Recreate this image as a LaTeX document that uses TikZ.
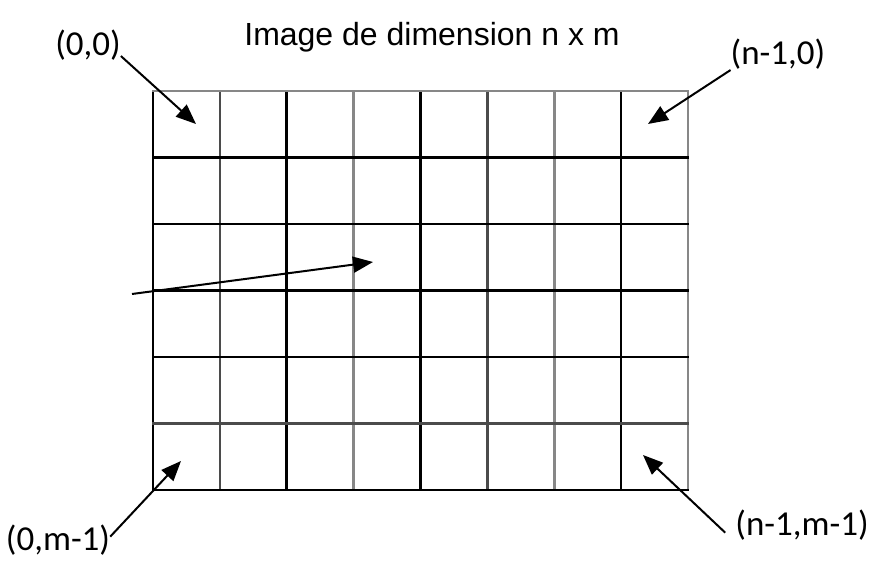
\documentclass[tikz,border=0pt]{standalone}
\usepackage{fontspec}
\setmainfont{Liberation Sans}
\newfontfamily\cornerfont{Carlito}
\usetikzlibrary{arrows.meta}
\definecolor{griddark}{RGB}{75,75,75}
\definecolor{gridlight}{RGB}{135,135,135}

\begin{document}
\begin{tikzpicture}[x=1pt, y=-1pt,
  gline/.style={line width=2.7pt, line cap=rect},
  plbl/.style={anchor=base, inner sep=0pt, font=\cornerfont\fontsize{35}{40}\selectfont},
  ptr/.style={line width=2pt, -{Triangle[length=20pt, width=16pt]}}
]
  \useasboundingbox (0,0) rectangle (876,572);

  % grille 8 x 6
  \foreach \i/\c in {0/black, 1/griddark, 2/black, 3/gridlight, 4/black, 5/griddark, 6/gridlight, 7/black, 8/gridlight}
    \draw[gline, \c] ({153+\i*66.875},91) -- ({153+\i*66.875},490);
  \foreach \j/\c in {0/gridlight, 1/black, 2/black, 3/black, 4/black, 5/griddark, 6/black}
    \draw[gline, \c] (153,{91+\j*66.5}) -- (688,{91+\j*66.5});

  % titre et coins
  \node[anchor=base, inner sep=0pt, font=\fontsize{32}{36}\selectfont] (titre) at (432,46) {Image de dimension n x m};
  \node[plbl] (hg) at (88,56) {(0,0)};
  \node[plbl] (hd) at (778,65) {(n-1,0)};
  \node[plbl] (bg) at (58,550) {(0,m-1)};
  \node[plbl] (bd) at (802,535) {(n-1,m-1)};

  \coordinate (phg) at (196,124);
  \coordinate (phd) at (648,124);
  \coordinate (pbg) at (181,461);
  \coordinate (pbd) at (643,455);
  \coordinate (dep) at (132,294);
  \coordinate (pix) at (373,262);

  \draw[ptr] ([yshift=5pt]hg.south east) -- (phg);
  \draw[ptr] (hd.south west) -- (phd);
  \draw[ptr] ([yshift=3pt]bg.east) -- (pbg);
  \draw[ptr] ([xshift=-10pt, yshift=-8pt]bd.west) -- (pbd);
  \draw[ptr] (dep) -- (pix);
\end{tikzpicture}
\end{document}
